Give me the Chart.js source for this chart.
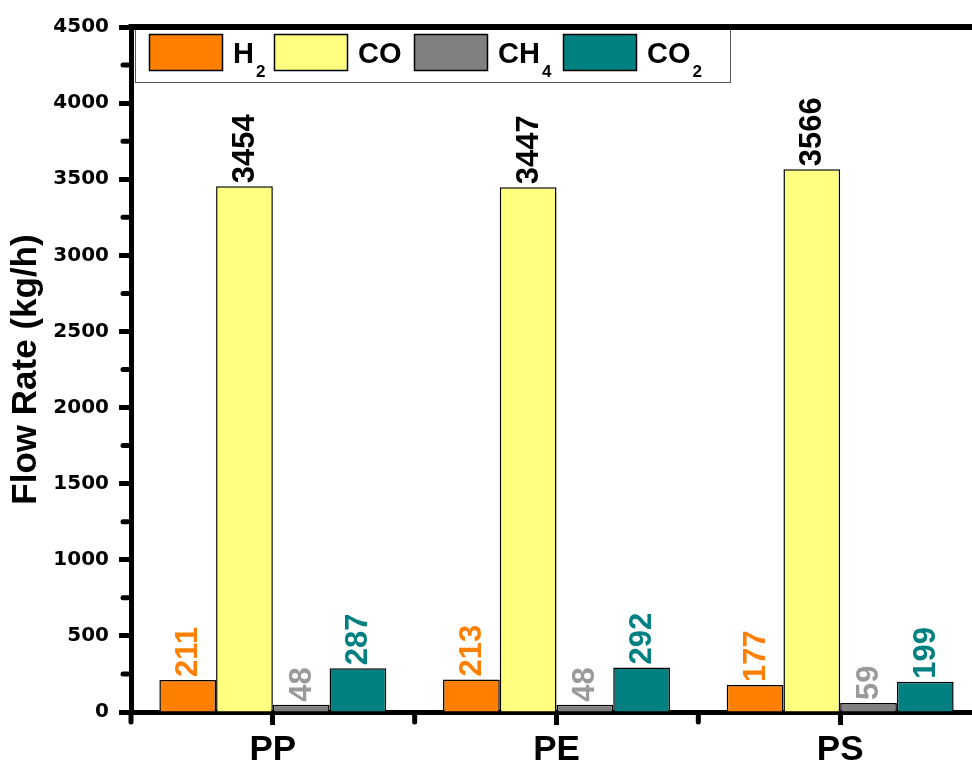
<!DOCTYPE html>
<html>
<head>
<meta charset="utf-8">
<script src="https://cdn.jsdelivr.net/npm/chart.js@4/dist/chart.umd.min.js"></script>
<style>
  html, body { margin: 0; padding: 0; background: #fff; overflow: hidden; }
  #wrap { position: absolute; left: 0; top: 0; width: 972px; height: 766px; overflow: hidden; }
  canvas { position: absolute; left: 0; top: 0; }
</style>
</head>
<body>
<div id="wrap"><canvas id="c" width="990" height="766"></canvas></div>
<script>
// ---- data ----
const categories = ['PP', 'PE', 'PS'];
const h2Values  = [211, 213, 177];
const coValues  = [3454, 3447, 3566];
const ch4Values = [48, 48, 59];
const co2Values = [287, 292, 199];
const seriesNames = ['H\u2082', 'CO', 'CH\u2084', 'CO\u2082'];
const legendMain = ['H', 'CO', 'CH', 'CO'];
const legendSub  = ['2', '', '4', '2'];
const yTickValues = [0, 500, 1000, 1500, 2000, 2500, 3000, 3500, 4000, 4500];
const yAxisTitle = 'Flow Rate (kg/h)';

// ---- styles ----
const fillColors  = ['#FF8000', '#FFFF80', '#808080', '#008080'];
const labelColors = ['#FF8000', '#000000', '#9A9A9A', '#008080'];

const customPlugin = {
  id: 'custom',
  afterDatasetsDraw(chart) {
    const ctx = chart.ctx;
    chart.data.datasets.forEach((ds, i) => {
      const meta = chart.getDatasetMeta(i);
      meta.data.forEach((bar, j) => {
        ctx.save();
        ctx.translate(bar.x + 1, bar.y - 3);
        ctx.rotate(-Math.PI / 2);
        ctx.font = 'bold 31px "Liberation Sans", Arial, sans-serif';
        ctx.fillStyle = labelColors[i];
        ctx.textAlign = 'left';
        ctx.textBaseline = 'middle';
        ctx.fillText(String(ds.data[j]), 0, 0);
        ctx.restore();
      });
    });
  },
  afterDraw(chart) {
    const ctx = chart.ctx;
    const ca = chart.chartArea;
    const xs = chart.scales.x, ys = chart.scales.y;
    ctx.save();
    ctx.strokeStyle = '#000';
    ctx.lineWidth = 5;
    ctx.lineCap = 'round';
    // minor y ticks
    for (let v = 250; v < 4500; v += 500) {
      const y = ys.getPixelForValue(v);
      ctx.beginPath();
      ctx.moveTo(ca.left - 3, y);
      ctx.lineTo(ca.left - 8, y);
      ctx.stroke();
    }
    // minor x ticks at category boundaries
    for (let i = 0; i < categories.length; i++) {
      const x = xs.getPixelForValue(i) - (xs.getPixelForValue(1) - xs.getPixelForValue(0)) / 2;
      ctx.beginPath();
      ctx.moveTo(x, ca.bottom + 3);
      ctx.lineTo(x, ca.bottom + 10);
      ctx.stroke();
    }
    ctx.restore();

    // legend box
    ctx.save();
    ctx.fillStyle = '#fff';
    ctx.fillRect(135.5, 28.5, 595, 54);
    ctx.strokeStyle = '#555';
    ctx.lineWidth = 1;
    ctx.strokeRect(135.5, 28.5, 595, 54);
    const swX = [149, 274, 414, 563];
    for (let i = 0; i < 4; i++) {
      ctx.fillStyle = fillColors[i];
      ctx.fillRect(swX[i] + 0.5, 34.5, 73, 36);
      ctx.strokeStyle = '#000';
      ctx.lineWidth = 1.5;
      ctx.strokeRect(swX[i] + 0.5, 34.5, 73, 36);
      ctx.fillStyle = '#000';
      ctx.textAlign = 'left';
      ctx.textBaseline = 'alphabetic';
      ctx.font = 'bold 29px "Liberation Sans", Arial, sans-serif';
      const tx = swX[i] + 84;
      ctx.fillText(legendMain[i], tx, 63);
      const w = ctx.measureText(legendMain[i]).width;
      if (legendSub[i]) {
        ctx.font = 'bold 17px "Liberation Sans", Arial, sans-serif';
        ctx.fillText(legendSub[i], tx + w + 2, 77);
      }
    }
    ctx.restore();

    // top frame line
    ctx.save();
    ctx.fillStyle = '#000';
    ctx.fillRect(ca.left - 2.5, ca.top - 3, chart.width, 6);
    ctx.restore();
  }
};

new Chart(document.getElementById('c'), {
  type: 'bar',
  data: {
    labels: categories,
    datasets: [
      { label: seriesNames[0], data: h2Values },
      { label: seriesNames[1], data: coValues },
      { label: seriesNames[2], data: ch4Values },
      { label: seriesNames[3], data: co2Values }
    ].map((d, i) => Object.assign(d, {
      backgroundColor: fillColors[i],
      borderColor: '#000',
      borderWidth: 1.5,
      borderSkipped: 'bottom',
      categoryPercentage: 0.8,
      barPercentage: 1.0
    }))
  },
  options: {
    responsive: false,
    animation: false,
    devicePixelRatio: 1,
    layout: { padding: { top: 27, right: 8, left: 0, bottom: 0 } },
    plugins: {
      legend: { display: false },
      tooltip: { enabled: false }
    },
    scales: {
      x: {
        afterFit(scale) { scale.height = 54; },
        grid: {
          offset: false,
          drawOnChartArea: false,
          drawTicks: true,
          tickLength: 13,
          tickWidth: 5,
          tickColor: '#000'
        },
        border: { display: true, color: '#000', width: 5 },
        ticks: {
          color: '#000',
          padding: 4,
          font: { family: '"Liberation Sans", Arial, sans-serif', size: 35, weight: 'bold' }
        }
      },
      y: {
        min: 0,
        max: 4500,
        afterFit(scale) { scale.width = 131; },
        afterBuildTicks(scale) { scale.ticks = yTickValues.map(v => ({ value: v })); },
        grid: {
          drawOnChartArea: false,
          drawTicks: true,
          tickLength: 12,
          tickWidth: 5,
          tickColor: '#000'
        },
        border: { display: true, color: '#000', width: 5 },
        ticks: {
          color: '#000',
          padding: 10,
          font: { family: '"DejaVu Sans", sans-serif', size: 20, weight: 'bold' },
          callback: (v) => String(v)
        },
        title: {
          display: true,
          text: yAxisTitle,
          color: '#000',
          padding: { top: 5, bottom: 0 },
          font: { family: '"Liberation Sans", Arial, sans-serif', size: 35, weight: 'bold' }
        }
      }
    }
  },
  plugins: [customPlugin]
});
</script>
</body>
</html>
